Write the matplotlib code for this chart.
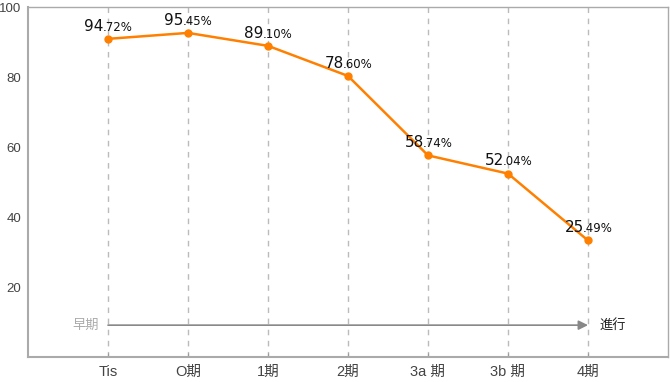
import matplotlib.pyplot as plt

plt.rcParams['font.family'] = ['DejaVu Sans', 'Noto Sans CJK JP']

# データ
stages = ['Tis', 'O期', '1期', '2期', '3a期', '3b期', '4期']
stage_ticks = ['Tis', 'O期', '1期', '2期', '3a 期', '3b 期', '4期']
point_vals = [90.9, 92.6, 88.9, 80.3, 57.6, 52.4, 33.3]
label_ints = ['94', '95', '89', '78', '58', '52', '25']
label_decs = ['.72%', '.45%', '.10%', '.60%', '.74%', '.04%', '.49%']
yticks = [20, 40, 60, 80, 100]
arrow_y = 9.1

fig = plt.figure(figsize=(6.7, 3.82), dpi=100)
ax = fig.add_axes([28 / 670, 25 / 382, 640 / 670, 350 / 382])

x = list(range(len(stages)))

# 縦の点線
for xi in x:
    ax.axvline(xi, color='#bbbbbb', lw=1, ls=(0, (4, 4)), zorder=0)

ax.plot(x, point_vals, color='#ff8000', lw=1.8, marker='o', ms=5, zorder=3)

for xi, yv, a, b in zip(x, point_vals, label_ints, label_decs):
    t = ax.annotate(a, xy=(xi, yv), xytext=(-10, 6), textcoords='offset points',
                    ha='center', va='baseline', fontsize=11, color='#111111')
    ax.annotate(b, xy=(1, 0), xycoords=t, xytext=(-0.5, 0), textcoords='offset points',
                ha='left', va='bottom', fontsize=8.5, color='#111111')

# 早期 → 進行 の矢印
ax.annotate('', xy=(x[-1], arrow_y), xytext=(x[0], arrow_y),
            arrowprops=dict(arrowstyle='-|>', color='#888888', lw=1.2,
                            mutation_scale=14, shrinkA=0, shrinkB=0))
ax.text(x[0] - 0.12, arrow_y, '早期', ha='right', va='center', fontsize=9.5,
        color='#aaaaaa', family=['Noto Sans CJK JP'])
ax.text(x[-1] + 0.15, arrow_y, '進行', ha='left', va='center', fontsize=9.5,
        color='#222222', family=['Noto Sans CJK JP'])

ax.set_xlim(-1, len(stages))
ax.set_ylim(0, 100)
ax.set_xticks(x)
ax.set_xticklabels(stage_ticks, fontsize=10.5, color='#444444',
                   family=['Liberation Sans', 'Noto Sans CJK JP'])
ax.set_yticks(yticks)
ax.set_yticklabels([str(v) for v in yticks], fontsize=9.5, color='#444444',
                   family=['Liberation Sans'])
ax.tick_params(axis='y', length=0, pad=5)
ax.tick_params(axis='x', length=3, direction='in', color='#999999', pad=6)

for s in ax.spines.values():
    s.set_color('#aaaaaa')
    s.set_linewidth(1)
ax.spines['left'].set_linewidth(1.5)
ax.spines['bottom'].set_linewidth(1.5)

fig.savefig('out.png', dpi=100)
